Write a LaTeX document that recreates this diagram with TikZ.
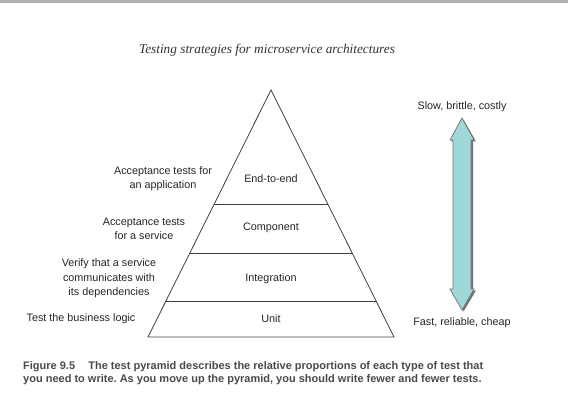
\documentclass[tikz,border=0pt]{standalone}
\usepackage{fontspec}
\setmainfont{Liberation Serif}
\setsansfont{Liberation Sans}
\usetikzlibrary{calc}
\definecolor{teal1}{HTML}{9ED8D8}
\definecolor{capgray}{HTML}{4A4A4A}
\definecolor{titlegray}{HTML}{333333}
\tikzset{
  lbl/.style={font=\sffamily\fontsize{10.8}{14.3}\selectfont, align=center, text=black!85, inner sep=0pt},
  lvl/.style={font=\sffamily\fontsize{10.8}{14.3}\selectfont, text=black!85, inner sep=0pt},
  edge/.style={draw=black!75, line width=0.8pt},
}
\begin{document}
\begin{tikzpicture}[x=1pt,y=-1pt]
\useasboundingbox (0,0) rectangle (568,401);
\fill[white] (0,0) rectangle (568,401);
\fill[black!30] (0,0) rectangle (568,3);
% title
\node[font=\itshape\fontsize{13.3}{15}\selectfont, text=titlegray, inner sep=0pt] (title) at (267,50) {Testing strategies for microservice architectures};
% pyramid
\coordinate (apex) at (271,90);
\coordinate (bl) at (148,337);
\coordinate (br) at (394,337);
\draw[edge, line join=miter] (bl) -- (apex) -- (br) -- cycle;
\coordinate (l1) at ($(apex)!0.4615!(bl)$); \coordinate (r1) at ($(apex)!0.4615!(br)$);
\coordinate (l2) at ($(apex)!0.6599!(bl)$); \coordinate (r2) at ($(apex)!0.6599!(br)$);
\coordinate (l3) at ($(apex)!0.8543!(bl)$); \coordinate (r3) at ($(apex)!0.8543!(br)$);
\draw[edge] (l1) -- (r1);
\draw[edge] (l2) -- (r2);
\draw[edge] (l3) -- (r3);
\node[lvl] (e2e) at (271,179) {End-to-end};
\node[lvl] (comp) at (271,228) {Component};
\node[lvl] (integ) at (271,279) {Integration};
\node[lvl] (unit) at (271,319) {Unit};
% left labels
\node[lbl] (la) at (163,179) {Acceptance tests for\\an application};
\node[lbl] (lb) at (144,229) {Acceptance tests\\for a service};
\node[lbl] (lc) at (109,278.5) {Verify that a service\\communicates with\\its dependencies};
\node[lbl] (ld) at (81,319) {Test the business logic};
% arrow
\fill[black!55] (463.5,119.5) -- (476,141.5) -- (473,141.5) -- (473,290.5) -- (476,290.5) -- (463.5,311.5) -- (451,290.5) -- (455,290.5) -- (455,141.5) -- (451,141.5) -- cycle;
\draw[fill=teal1, draw=black!55, line width=0.7pt, line join=miter]
  (462,118) -- (474,140) -- (471,140) -- (471,289) -- (474,289) -- (462,310)
  -- (450,289) -- (453,289) -- (453,140) -- (450,140) -- cycle;
\coordinate (atop) at (462,118);
\coordinate (abot) at (462,310);
\node[lvl] (slow) at (462,107) {Slow, brittle, costly};
\node[lvl] (fast) at (462,323) {Fast, reliable, cheap};
% caption
\node[anchor=west, align=left, inner sep=0pt, font=\sffamily\bfseries\fontsize{11}{15}\selectfont\frenchspacing, text=capgray] (cap) at (23,373)
  {Figure 9.5\hspace{1.2em}The test pyramid describes the relative proportions of each type of test that\\[-2pt]you need to write. As you move up the pyramid, you should write fewer and fewer tests.};
\end{tikzpicture}
\end{document}
